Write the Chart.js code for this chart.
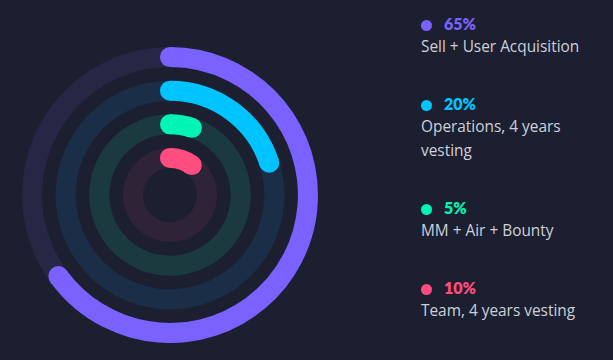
<!DOCTYPE html>
<html>
<head>
<meta charset="utf-8">
<script src="https://cdn.jsdelivr.net/npm/chart.js@4"></script>
<style>
  html, body { margin: 0; padding: 0; }
  body { width: 613px; height: 360px; background: #1c1f30; position: relative; overflow: hidden;
         font-family: "Open Sans", "Noto Sans", sans-serif; }
  #wrap { position: absolute; left: 22px; top: 47px; width: 296px; height: 296px; }
  #legend { position: absolute; left: 421px; top: 13px; width: 182px; }
  .item { margin-bottom: 34px; }
  .pct { font-weight: 800; font-size: 16px; line-height: 22px; font-family: "Lato", "Noto Sans", sans-serif; }
  .dot { display: inline-block; width: 11px; height: 11px; border-radius: 50%; margin: 0 12px 0 0; vertical-align: -1px; }
  .lbl { color: #cdd0da; font-size: 15.4px; line-height: 24px; }
</style>
</head>
<body>
<div id="wrap"><canvas id="c"></canvas></div>
<div id="legend"></div>
<script>
// categories + values (percent)
const labels = ["Sell + User Acquisition", "Operations, 4 years vesting", "MM + Air + Bounty", "Team, 4 years vesting"];
const values = [65, 20, 5, 10];
const colors = ["#7b61ff", "#00c4ff", "#00f5b4", "#ff4d7f"];
const trackColors = ["#262645", "#1a2f47", "#1a3a3f", "#2e2337"];

// build datasets: outer ring first, spacer datasets keep the gaps
const datasets = [];
values.forEach((v, i) => {
    datasets.push({
        data: [v, 100 - v],
        backgroundColor: [colors[i], trackColors[i]],
        capColor: colors[i],
        borderWidth: 0,
        weight: 20
    });
    if (i < values.length - 1) {
        datasets.push({ data: [100], backgroundColor: ["rgba(0,0,0,0)"], borderWidth: 0, weight: 13.5, spacer: true });
    }
});

// round caps on the value arc
const roundCaps = {
    id: "roundCaps",
    afterDatasetsDraw(chart) {
        const ctx = chart.ctx;
        chart.data.datasets.forEach((ds, di) => {
            if (ds.spacer) return;
            const arc = chart.getDatasetMeta(di).data[0];
            const r = (arc.innerRadius + arc.outerRadius) / 2;
            const w = (arc.outerRadius - arc.innerRadius) / 2;
            ctx.save();
            ctx.fillStyle = ds.capColor;
            [arc.startAngle, arc.endAngle].forEach(a => {
                ctx.beginPath();
                ctx.arc(arc.x + r * Math.cos(a), arc.y + r * Math.sin(a), w, 0, Math.PI * 2);
                ctx.fill();
            });
            ctx.restore();
        });
    }
};

new Chart(document.getElementById("c"), {
    type: "doughnut",
    data: { labels: ["value", "rest"], datasets: datasets },
    options: {
        responsive: true,
        maintainAspectRatio: false,
        animation: false,
        events: [],
        cutout: 27,
        layout: { padding: 0 },
        plugins: { legend: { display: false }, tooltip: { enabled: false } }
    },
    plugins: [roundCaps]
});

// html legend
const legend = document.getElementById("legend");
labels.forEach((l, i) => {
    const item = document.createElement("div");
    item.className = "item";
    item.innerHTML = '<div class="pct" style="color:' + colors[i] + '"><span class="dot" style="background:' + colors[i] + '"></span>' + values[i] + '%</div>' +
        '<div class="lbl">' + l + '</div>';
    legend.appendChild(item);
});
</script>
</body>
</html>
